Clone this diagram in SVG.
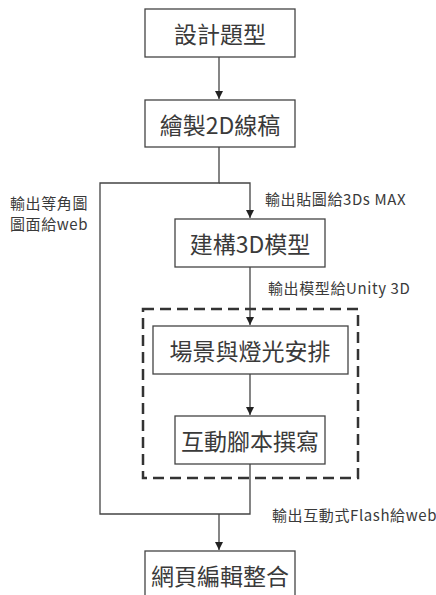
<svg xmlns="http://www.w3.org/2000/svg" width="436" height="595" viewBox="0 0 436 595">
<defs>
<marker id="ah" markerWidth="10" markerHeight="10" refX="9" refY="5" orient="auto" markerUnits="userSpaceOnUse">
<path d="M1,1 L9,5 L1,9 Z" fill="#222"/>
</marker>
<style>
.box{fill:#fff;stroke:#444;stroke-width:1.3}
.bt{font-family:"Noto Sans CJK TC","Noto Sans CJK SC",sans-serif;font-size:23px;fill:#3a3a3a;text-anchor:middle;dominant-baseline:central}
.lt{font-family:"Noto Sans CJK TC","Noto Sans CJK SC",sans-serif;font-size:15px;letter-spacing:0.6px;fill:#3a3a3a}
.ln{fill:none;stroke:#444;stroke-width:1.3}
</style>
</defs>
<rect width="436" height="595" fill="#fff"/>
<g id="connectors">
<path class="ln" d="M219,57 V99" marker-end="url(#ah)"/>
<path class="ln" d="M219,147 V183 H100 V514 H250 V464"/>
<path class="ln" d="M219,183 H250 V218" marker-end="url(#ah)"/>
<path class="ln" d="M250,267 V325" marker-end="url(#ah)"/>
<path class="ln" d="M250,374 V415" marker-end="url(#ah)"/>
<path class="ln" d="M219,514 V550" marker-end="url(#ah)"/>
<text class="lt" x="265" y="205">輸出貼圖給3Ds MAX</text>
<text class="lt" x="10" y="209">輸出等角圖</text>
<text class="lt" x="10" y="230">圖面給web</text>
<text class="lt" x="268" y="294">輸出模型給Unity 3D</text>
<text class="lt" x="272" y="521">輸出互動式Flash給web</text>
</g>
<g id="group">
<rect x="143" y="309" width="215" height="169" fill="none" stroke="#333" stroke-width="2.5" stroke-dasharray="11,6"/>
</g>
<g id="n1"><rect class="box" x="145" y="9" width="150" height="48"/><text class="bt" x="220" y="33">設計題型</text></g>
<g id="n2"><rect class="box" x="145" y="100" width="150" height="47"/><text class="bt" x="220" y="124">繪製2D線稿</text></g>
<g id="n3"><rect class="box" x="175" y="219" width="150" height="48"/><text class="bt" x="250" y="243">建構3D模型</text></g>
<g id="n4"><rect class="box" x="153" y="326" width="195" height="48"/><text class="bt" x="250" y="350">場景與燈光安排</text></g>
<g id="n5"><rect class="box" x="175" y="416" width="150" height="48"/><text class="bt" x="250" y="440">互動腳本撰寫</text></g>
<g id="n6"><rect class="box" x="145" y="551" width="150" height="60"/><text class="bt" x="220" y="575">網頁編輯整合</text></g>
</svg>
